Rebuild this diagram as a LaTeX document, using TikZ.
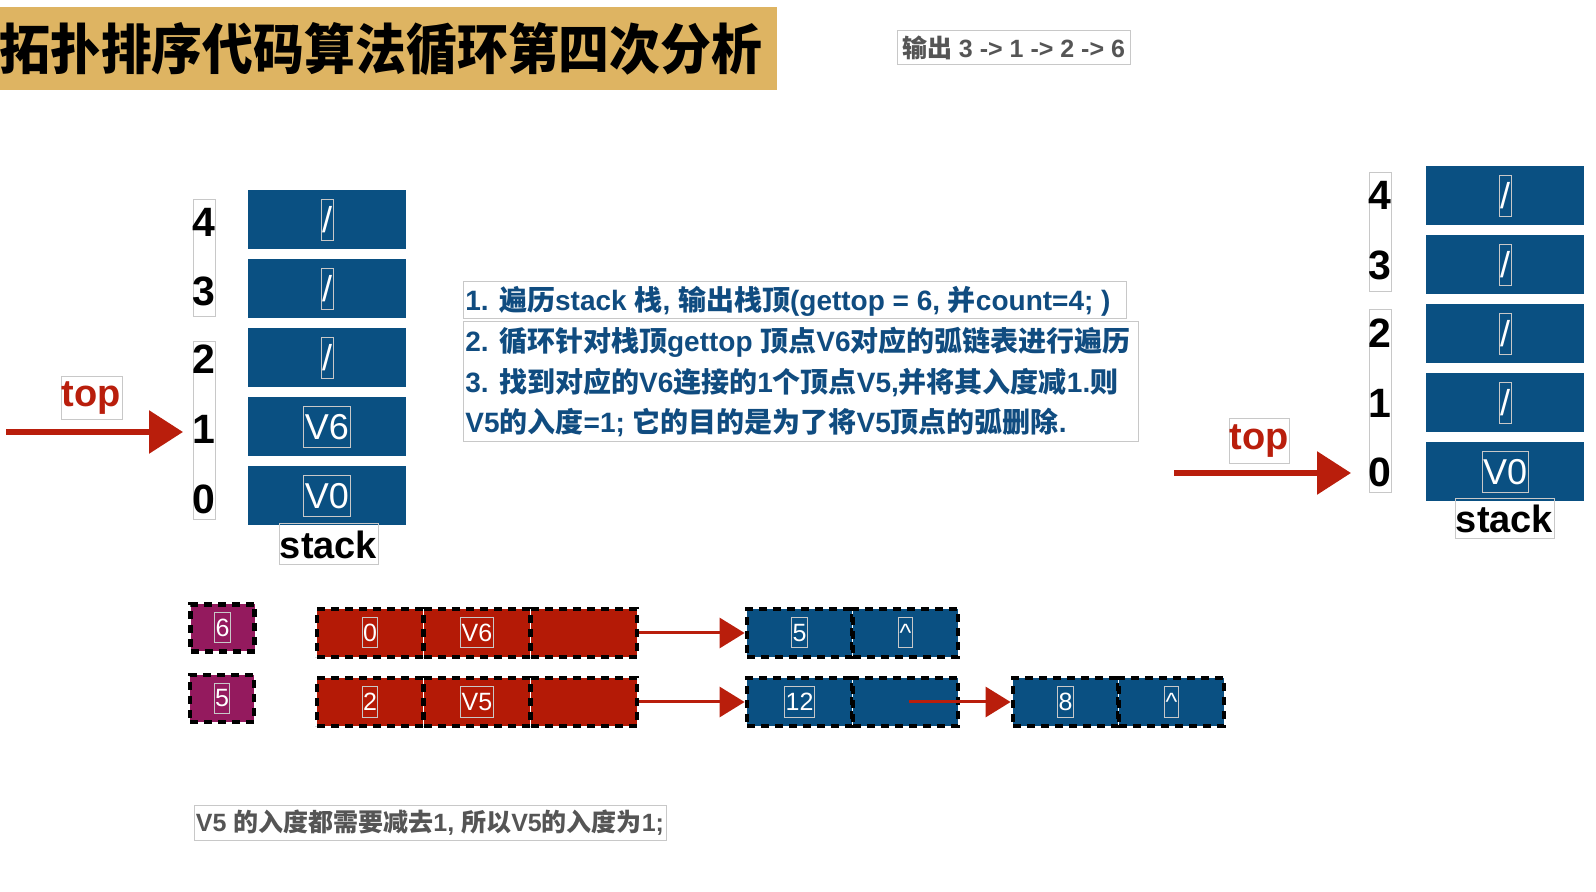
\documentclass[tikz,border=0pt]{standalone}
\usepackage{graphicx}
\usepackage{fontspec}
\setmainfont{Noto Sans CJK SC}
\newfontfamily\latf{Liberation Sans}
\newcommand\lx[1]{{\latf #1}}
\usetikzlibrary{arrows.meta}
\definecolor{sb}{RGB}{10,80,130}
\definecolor{gold}{RGB}{222,180,98}
\definecolor{rd}{RGB}{180,26,6}
\definecolor{pu}{RGB}{148,26,94}
\definecolor{ar}{RGB}{185,30,12}
\definecolor{olc}{RGB}{200,200,200}
\definecolor{tb}{RGB}{16,76,128}
\definecolor{gt}{RGB}{85,85,85}
\tikzset{
  ol/.style={draw=olc, line width=0.5pt},
  sbox/.style={fill=sb, inner sep=0pt, minimum width=79pt, minimum height=29.5pt},
  wtxt/.style={ol, text=white, font=\latf\fontsize{18}{18}\selectfont, inner xsep=0.5pt, inner ysep=0pt, minimum height=20.5pt},
  idx/.style={inner sep=0pt, font=\latf\bfseries\fontsize{20.5}{20.5}\selectfont},
  lbl/.style={ol, inner sep=0pt, font=\latf\bfseries\fontsize{19}{19}\selectfont},
  bigarrow/.style={draw=ar, line width=3pt, -{Triangle[length=17pt,width=21pt]}},
  smarrow/.style={draw=ar, line width=1.5pt, -{Triangle[length=12.5pt,width=15pt]}},
  dsh/.style={draw=black, line width=2.4pt, dash pattern=on 4pt off 3pt},
  pbox/.style={fill=pu, dsh, inner sep=0pt, minimum width=32pt, minimum height=23.5pt},
  rbox/.style={fill=rd, dsh, inner sep=0pt, minimum width=53pt, minimum height=24pt},
  bbox/.style={fill=sb, dsh, inner sep=0pt, minimum width=52.5pt, minimum height=24pt},
  stxt/.style={ol, text=white, font=\latf\fontsize{12.5}{12.5}\selectfont, inner xsep=0.5pt, inner ysep=0pt, minimum height=15pt},
  mtxt/.style={anchor=west, inner sep=0pt, text=tb, font=\bfseries\fontsize{14}{14}\selectfont},
}
\begin{document}
\begin{tikzpicture}[x=0.5pt,y=-0.5pt]
\useasboundingbox (0,0) rectangle (1596,892);
\fill[white] (0,0) rectangle (1596,892);
% title
\fill[gold] (0,7) rectangle (777,90);
\node[anchor=west, inner sep=0pt, font=\bfseries\fontsize{27.2}{27.2}\selectfont] (title) at (-1,49) {\scalebox{0.935}[1]{拓扑排序代码算法循环第四次分析}};
% output
\node[ol, text=gt, font=\bfseries\fontsize{12.5}{12.5}\selectfont, minimum width=116.5pt, minimum height=17pt, inner sep=0pt] (out) at (1013.5,48) {输出\lx{ 3 -> 1 -> 2 -> 6}};
% left stack
\foreach \i/\y in {4/220,3/289,2/358,1/427,0/496} {
  \node[sbox] (L\i) at (327,\y) {};
}
\node[wtxt] (L4t) at (L4) {/};
\node[wtxt] (L3t) at (L3) {/};
\node[wtxt] (L2t) at (L2) {/};
\node[wtxt] (L1t) at (L1) {V6};
\node[wtxt] (L0t) at (L0) {V0};
\draw[ol] (193,200) rectangle (215,317);
\draw[ol] (193,342) rectangle (215,520);
\node[idx] (Li4) at (204,222) {4};
\node[idx] (Li3) at (204,291) {3};
\node[idx] (Li2) at (204,359) {2};
\node[idx] (Li1) at (204,429) {1};
\node[idx] (Li0) at (204,499) {0};
\node[lbl, minimum width=49.5pt, minimum height=20.5pt] (Ls) at (328.5,544.5) {stack};
\node[lbl, text=ar, minimum width=30.5pt, minimum height=21.5pt] (Ltop) at (91.5,398.5) {top};
\coordinate (La0) at (6,432);
\coordinate (La1) at (183,432);
\draw[bigarrow] (La0) -- (La1);
% middle text
\draw[ol] (463,282) rectangle (1126,319);
\draw[ol] (463,322) rectangle (1138,442);
\node[mtxt] (m1) at (465,301) {\lx{1. }遍历\lx{stack }栈\lx{, }输出栈顶\lx{(gettop = 6, }并\lx{count=4; )}};
\node[mtxt] (m2) at (465,342) {\lx{2. }循环针对栈顶\lx{gettop }顶点\lx{V6}对应的弧链表进行遍历};
\node[mtxt] (m3) at (465,383) {\lx{3. }找到对应的\lx{V6}连接的\lx{1}个顶点\lx{V5,}并将其入度减\lx{1.}则};
\node[mtxt] (m4) at (465,422) {\lx{V5}的入度\lx{=1; }它的目的是为了将\lx{V5}顶点的弧删除\lx{.}};
% right stack
\foreach \i/\y in {4/196,3/265,2/334,1/403,0/472} {
  \node[sbox] (R\i) at (1505,\y) {};
}
\node[wtxt] (R4t) at (R4) {/};
\node[wtxt] (R3t) at (R3) {/};
\node[wtxt] (R2t) at (R2) {/};
\node[wtxt] (R1t) at (R1) {/};
\node[wtxt] (R0t) at (R0) {V0};
\draw[ol] (1369,173) rectangle (1391,292);
\draw[ol] (1369,310) rectangle (1391,493);
\node[idx] (Ri4) at (1380,195) {4};
\node[idx] (Ri3) at (1380,265) {3};
\node[idx] (Ri2) at (1380,333) {2};
\node[idx] (Ri1) at (1380,403) {1};
\node[idx] (Ri0) at (1380,472) {0};
\node[lbl, minimum width=49.5pt, minimum height=20pt] (Rs) at (1504.5,519) {stack};
\node[lbl, text=ar, minimum width=30pt, minimum height=22.5pt] (Rtop) at (1259,441.5) {top};
\coordinate (Ra0) at (1174,473);
\coordinate (Ra1) at (1351,473);
\draw[bigarrow] (Ra0) -- (Ra1);
% bottom lists
\node[pbox] (P6) at (222.5,628) {};
\node[stxt] (P6t) at (P6) {6};
\node[pbox] (P5) at (222,698.5) {};
\node[stxt] (P5t) at (P5) {5};
\node[rbox] (A1) at (370,633) {};
\node[rbox] (A2) at (477,633) {};
\node[rbox] (A3) at (584,633) {};
\node[stxt] (A1t) at (A1) {0};
\node[stxt] (A2t) at (A2) {V6};
\node[rbox] (C1) at (370,702) {};
\node[rbox] (C2) at (477,702) {};
\node[rbox] (C3) at (584,702) {};
\node[stxt] (C1t) at (C1) {2};
\node[stxt] (C2t) at (C2) {V5};
\node[bbox] (B1) at (799.5,633) {};
\node[bbox] (B2) at (905.5,633) {};
\node[stxt] (B1t) at (B1) {5};
\node[stxt] (B2t) at (B2) {\^{}};
\node[bbox] (D1) at (799.5,702) {};
\node[bbox] (D2) at (905.5,702) {};
\node[bbox] (D3) at (1065.5,702) {};
\node[bbox] (D4) at (1171.5,702) {};
\node[stxt] (D1t) at (D1) {12};
\node[stxt] (D3t) at (D3) {8};
\node[stxt] (D4t) at (D4) {\^{}};
\draw[smarrow] (A3.east) -- (B1.west);
\draw[smarrow] (C3.east) -- (D1.west);
\coordinate (Ds) at (909,702);
\draw[smarrow] (Ds) -- (D3.west);
% bottom note
\node[ol, text=gt, font=\bfseries\fontsize{12.5}{12.5}\selectfont, minimum width=236pt, minimum height=17.5pt, inner sep=0pt] (note) at (430,822.5) {\lx{V5 }的入度都需要减去\lx{1, }所以\lx{V5}的入度为\lx{1;}};
\end{tikzpicture}
\end{document}
